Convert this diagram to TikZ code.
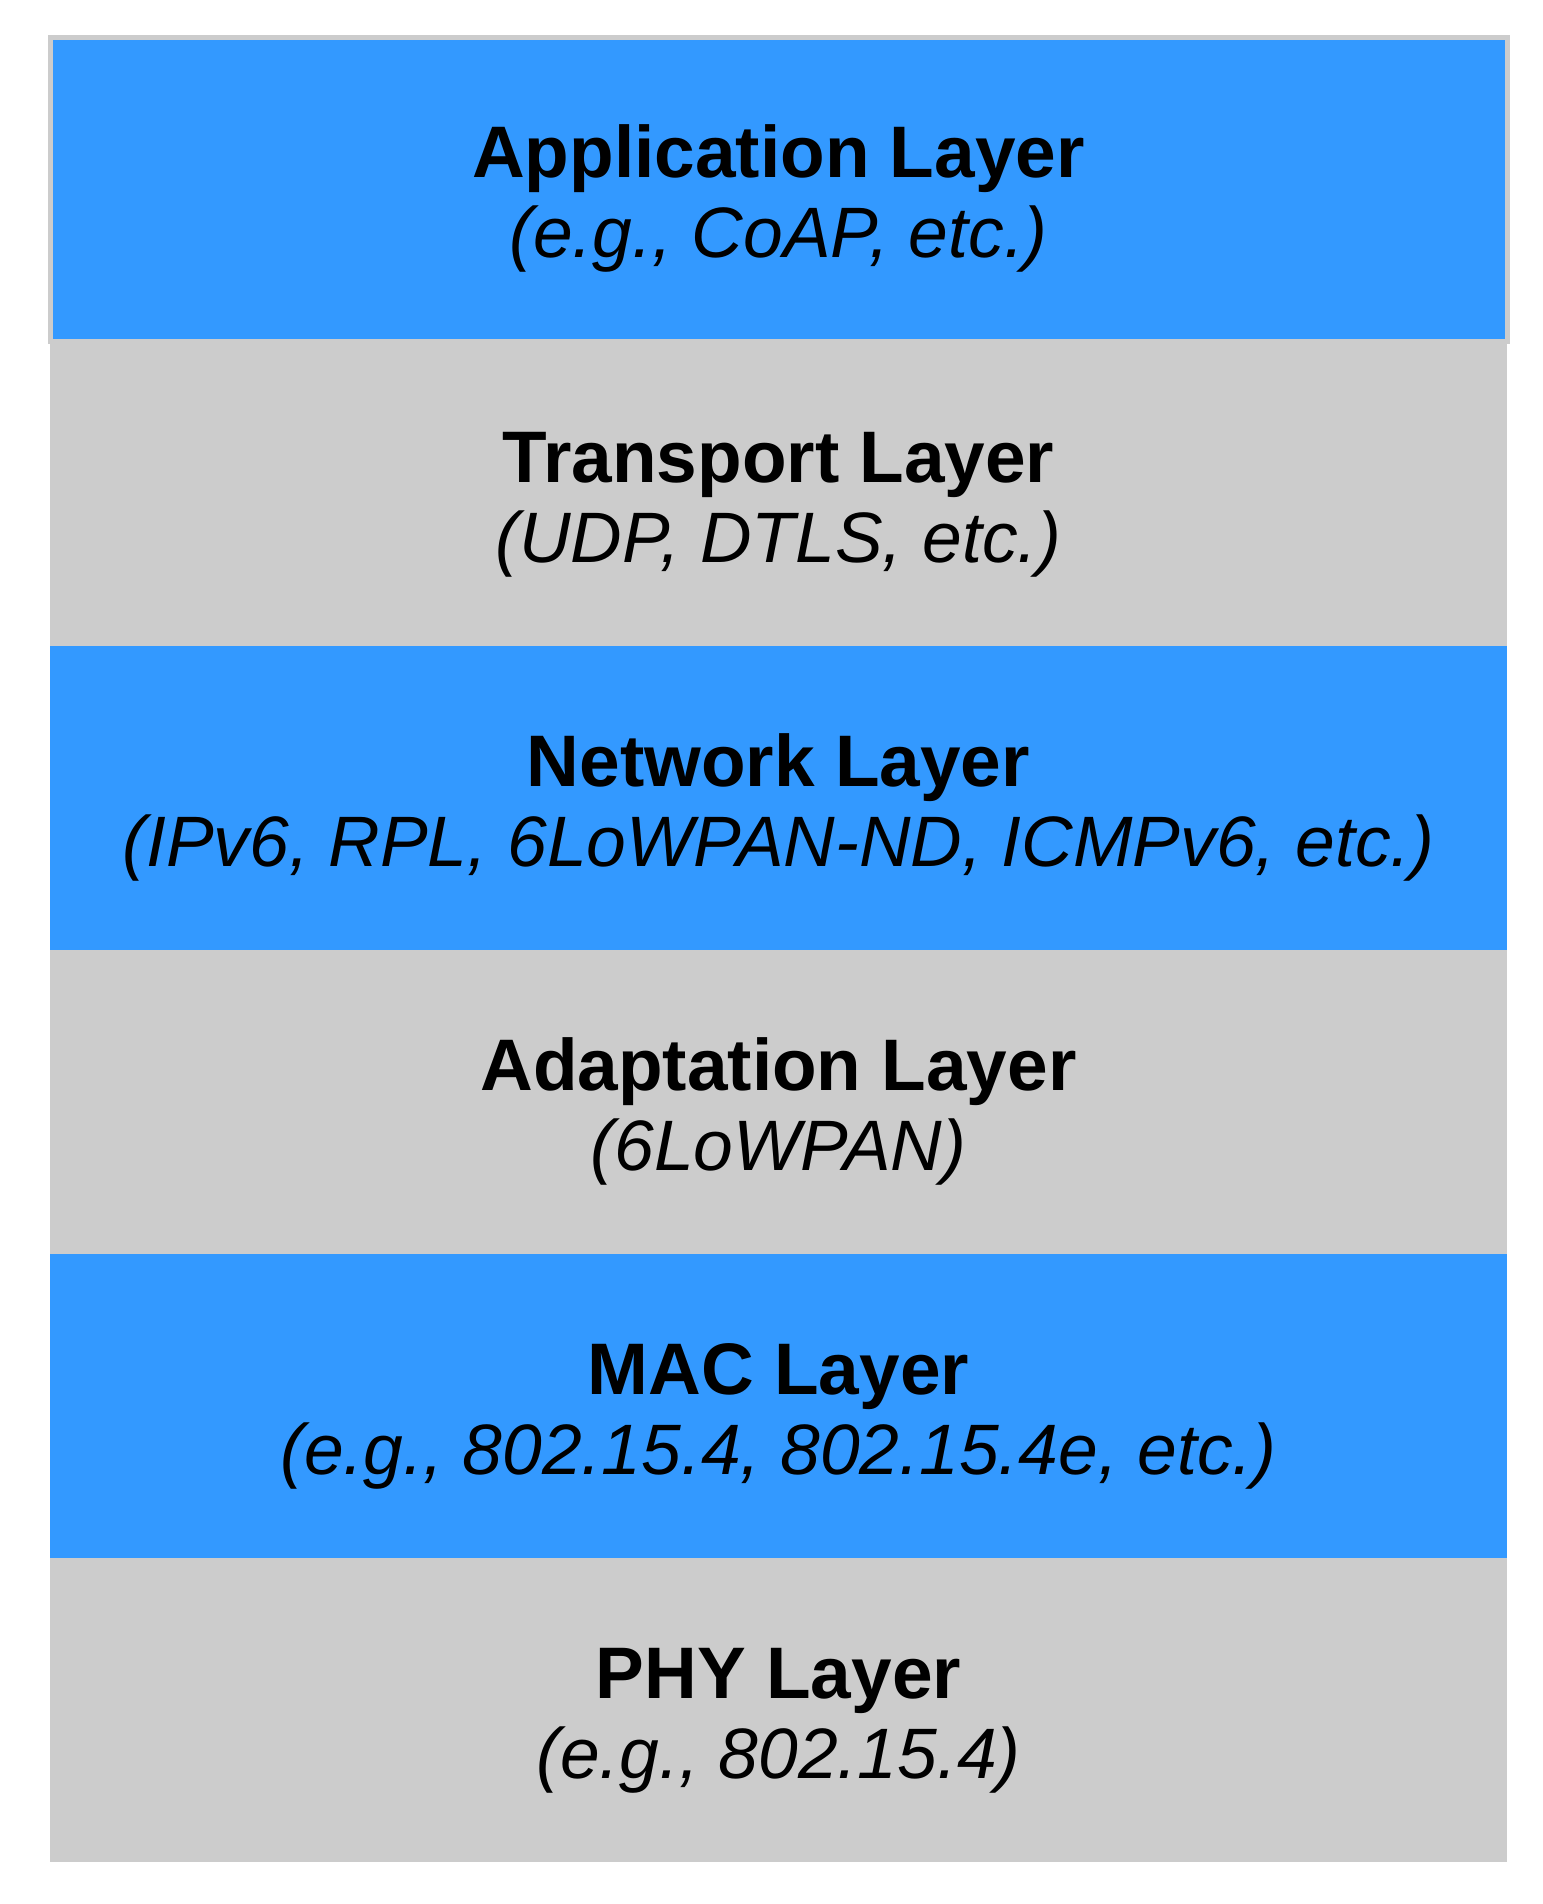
\documentclass[tikz,border=0pt]{standalone}
\usepackage{fontspec}
\setmainfont{Liberation Sans}
\definecolor{layerblue}{HTML}{3399FF}
\definecolor{layergray}{HTML}{CCCCCC}
\tikzset{
  layer/.style={inner sep=0pt, outer sep=0pt, minimum width=728.5pt, minimum height=152pt, anchor=north west},
  bluelayer/.style={layer, fill=layerblue},
  graylayer/.style={layer, fill=layergray},
  titletext/.style={anchor=base, inner sep=0pt, font=\fontsize{36.5pt}{40pt}\selectfont\bfseries},
  subtext/.style={anchor=base, inner sep=0pt, font=\fontsize{35.7pt}{40pt}\selectfont\itshape},
}
\begin{document}
\begin{tikzpicture}[x=0.5pt,y=-0.5pt]
\useasboundingbox (0,0) rectangle (1542,1904);
\node[graylayer] (trans) at (50,342) {};
\node[bluelayer] (net) at (50,646) {};
\node[graylayer] (adapt) at (50,950) {};
\node[bluelayer] (mac) at (50,1254) {};
\node[graylayer] (phy) at (50,1558) {};
\node[bluelayer, draw=layergray, line width=2.5pt] (app) at (50,38) {};
% texts
\node[titletext] (appT) at (778.5,178) {Application Layer};
\node[subtext] (appS) at (778.5,258) {(e.g., CoAP, etc.)};
\node[titletext] (transT) at (778.5,482) {Transport Layer};
\node[subtext] (transS) at (778.5,562) {(UDP, DTLS, etc.)};
\node[titletext] (netT) at (778.5,786) {Network Layer};
\node[subtext] (netS) at (778.5,866) {(IPv6, RPL, 6LoWPAN-ND, ICMPv6, etc.)};
\node[titletext] (adaptT) at (778.5,1090) {Adaptation Layer};
\node[subtext] (adaptS) at (778.5,1170) {(6LoWPAN)};
\node[titletext] (macT) at (778.5,1394) {MAC Layer};
\node[subtext] (macS) at (778.5,1474) {(e.g., 802.15.4, 802.15.4e, etc.)};
\node[titletext] (phyT) at (778.5,1698) {PHY Layer};
\node[subtext] (phyS) at (778.5,1778) {(e.g., 802.15.4)};
\end{tikzpicture}
\end{document}
